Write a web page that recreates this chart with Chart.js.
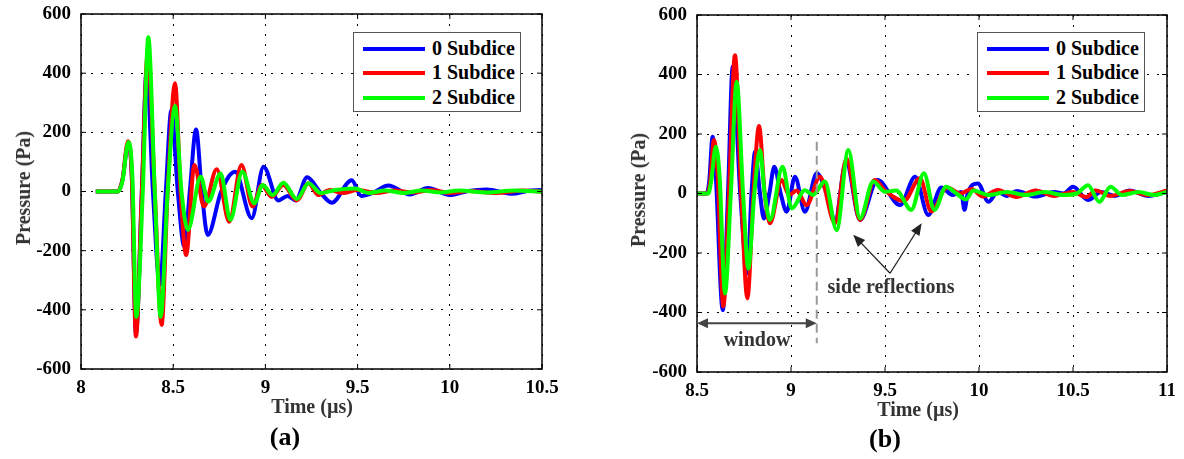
<!DOCTYPE html>
<html>
<head>
<meta charset="utf-8">
<script src="https://cdn.jsdelivr.net/npm/chart.js@4.4.1/dist/chart.umd.min.js"></script>
<style>
  body { margin: 0; background: #fff; width: 1184px; height: 459px; position: relative; overflow: hidden;
         font-family: "Liberation Serif", "Times New Roman", serif; font-weight: bold; }
  .wrap { position: absolute; top: 0; width: 592px; height: 459px; }
  .lbl { position: absolute; white-space: nowrap; transform: translate(-50%, -50%); line-height: 1; }
  .title { font-size: 20px; color: #333; }
  .note { font-size: 20px; color: #333; }
  .cap { font-size: 26px; color: #000; }
  .legend { position: absolute; width: 166px; height: 78px; border: 1.5px solid #555; background: #fff; }
  .row { position: absolute; left: 9px; height: 25px; display: flex; align-items: center; font-size: 20px; color: #000; }
  .row i { display: inline-block; width: 62px; height: 4px; margin-right: 7px; }
</style>
</head>
<body>
<div class="wrap" style="left:0"><canvas id="chartA"></canvas></div>
<div class="wrap" style="left:592px"><canvas id="chartB"></canvas></div>

<div class="legend" style="left:353px;top:32px">
  <div class="row" style="top:3px"><i style="background:#0000ff"></i>0 Subdice</div>
  <div class="row" style="top:27px"><i style="background:#ff0000"></i>1 Subdice</div>
  <div class="row" style="top:52px"><i style="background:#00ff00"></i>2 Subdice</div>
</div>
<div class="legend" style="left:977px;top:32px">
  <div class="row" style="top:3px"><i style="background:#0000ff"></i>0 Subdice</div>
  <div class="row" style="top:27px"><i style="background:#ff0000"></i>1 Subdice</div>
  <div class="row" style="top:52px"><i style="background:#00ff00"></i>2 Subdice</div>
</div>

<div class="lbl title" style="left:23px;top:188px;transform:translate(-50%,-50%) rotate(-90deg)">Pressure (Pa)</div>
<div class="lbl title" style="left:638px;top:190px;transform:translate(-50%,-50%) rotate(-90deg)">Pressure (Pa)</div>
<div class="lbl title" style="left:312px;top:406px">Time (µs)</div>
<div class="lbl title" style="left:918px;top:409px">Time (µs)</div>
<div class="lbl cap" style="left:285px;top:437px">(a)</div>
<div class="lbl cap" style="left:885px;top:439px">(b)</div>
<div class="lbl note" style="left:757px;top:339px">window</div>
<div class="lbl note" style="left:891px;top:286px">side reflections</div>

<script>
// (a) time (us) / pressure (Pa)
const tA0 = [8.08, 8.2, 8.225, 8.255, 8.275, 8.298, 8.33, 8.356, 8.39, 8.428, 8.46, 8.49, 8.525, 8.56, 8.59, 8.624, 8.655, 8.687, 8.76, 8.835, 8.926, 8.99, 9.07, 9.12, 9.165, 9.226, 9.3, 9.36, 9.468, 9.52, 9.58, 9.667, 9.784, 9.882, 10.0, 10.1, 10.2, 10.34, 10.42, 10.5];
const pA0 = [0, 0, 40, 160, 60, -480, 0, 410, 0, -316, 0, 275, 0, -186, 0, 210, 0, -147, 0, 67, -90, 84, -30, -15, -30, 48, -5, -38, 38, -15, -5, 20, -10, 12, -12, 2, 7, -8, 2, 5];
const tA1 = [8.08, 8.2, 8.225, 8.255, 8.275, 8.298, 8.33, 8.362, 8.4, 8.437, 8.47, 8.51, 8.54, 8.57, 8.615, 8.667, 8.736, 8.804, 8.87, 8.93, 8.98, 9.034, 9.097, 9.17, 9.234, 9.286, 9.35, 9.42, 9.5, 9.6, 9.7, 9.8, 9.9, 10.0, 10.1, 10.25, 10.4, 10.5];
const pA1 = [0, 0, 40, 170, 60, -490, 0, 468, 0, -451, 0, 366, 0, -215, 90, -51, 75, -102, 90, -51, 22, -18, 22, -30, 28, -12, 5, -5, 5, -5, 3, -3, 5, -5, 2, -5, 3, 0];
const tA2 = [8.08, 8.2, 8.225, 8.257, 8.278, 8.3, 8.335, 8.365, 8.4, 8.432, 8.47, 8.51, 8.545, 8.58, 8.649, 8.69, 8.757, 8.81, 8.875, 8.94, 8.985, 9.04, 9.097, 9.17, 9.234, 9.3, 9.38, 9.486, 9.56, 9.65, 9.75, 9.85, 9.95, 10.05, 10.2, 10.35, 10.5];
const pA2 = [0, 0, 35, 167, 60, -423, 0, 521, 0, -423, 0, 289, 0, -130, 50, -34, 61, -96, 67, -40, 22, -12, 30, -25, 28, -5, 5, 10, -5, 3, -5, 3, -3, 3, -3, 3, 0];

// (b)
const tB0 = [8.5, 8.55, 8.565, 8.583, 8.6, 8.637, 8.665, 8.69, 8.73, 8.768, 8.79, 8.809, 8.835, 8.856, 8.885, 8.911, 8.945, 8.977, 9.021, 9.074, 9.137, 9.19, 9.234, 9.293, 9.367, 9.46, 9.58, 9.66, 9.73, 9.8, 9.86, 9.905, 9.923, 9.94, 9.994, 10.05, 10.1, 10.15, 10.2, 10.3, 10.4, 10.45, 10.5, 10.58, 10.65, 10.72, 10.8, 10.9, 11.0];
const pB0 = [0, 0, 40, 191, 60, -392, 0, 426, 0, -268, 0, 140, 0, -84, 0, 90, 0, -61, 56, -61, 68, 0, -90, 107, -89, 45, -39, 56, -72, 20, -5, 5, -55, 0, 34, -28, 5, -8, 8, -10, 5, 0, 23, -22, 5, -8, 10, -8, 5];
const tB1 = [8.5, 8.555, 8.57, 8.59, 8.61, 8.64, 8.67, 8.702, 8.735, 8.768, 8.8, 8.83, 8.86, 8.888, 8.95, 8.99, 9.03, 9.083, 9.154, 9.234, 9.295, 9.367, 9.445, 9.5, 9.6, 9.686, 9.746, 9.83, 9.9, 9.96, 10.02, 10.1, 10.2, 10.3, 10.4, 10.5, 10.57, 10.62, 10.7, 10.8, 10.9, 11.0];
const pB1 = [0, 0, 40, 180, 60, -380, 0, 465, 0, -352, 0, 227, 0, -100, 45, -5, 10, -39, 56, -100, 118, -89, 45, 10, -25, 51, -60, 20, 0, 15, -10, 12, -12, 10, -8, 5, -12, 10, -8, 8, -5, 10];
const tB2 = [8.5, 8.56, 8.575, 8.6, 8.62, 8.649, 8.68, 8.711, 8.745, 8.773, 8.805, 8.835, 8.86, 8.888, 8.955, 9.004, 9.074, 9.117, 9.18, 9.243, 9.305, 9.367, 9.437, 9.5, 9.56, 9.64, 9.707, 9.763, 9.825, 9.88, 9.93, 9.97, 10.05, 10.15, 10.25, 10.35, 10.45, 10.52, 10.58, 10.64, 10.7, 10.76, 10.85, 10.93, 11.0];
const pB2 = [0, 0, 40, 157, 60, -336, 0, 376, 0, -252, 0, 146, 0, -89, 90, -50, 11, -5, 40, -123, 146, -84, 40, 6, 10, -55, 68, -55, 23, 0, -20, 10, -5, 5, -5, 5, -5, 0, 28, -28, 23, -5, 5, -5, 5];

const seriesNames = ['0 Subdice', '1 Subdice', '2 Subdice'];
const seriesColors = ['#0000ff', '#ff0000', '#00ff00'];
const yTicks = [-600, -400, -200, 0, 200, 400, 600];

const serif = '"Liberation Serif", "Times New Roman", serif';

function pts(t, p) {
  return t.map((v, i) => ({ x: v, y: p[i] }));
}

function makeSets(list) {
  return list.map((s, i) => ({
    label: seriesNames[i],
    data: pts(s[0], s[1]),
    borderColor: seriesColors[i],
    borderWidth: 4,
    pointRadius: 0,
    fill: false,
    order: 3 - i, // green on top, blue underneath
    cubicInterpolationMode: 'monotone'
  }));
}

// box round the plot and small inward ticks
const frame = {
  id: 'frame',
  afterDraw(chart) {
    const { ctx, chartArea: a, scales: { x, y } } = chart;
    ctx.save();
    ctx.strokeStyle = '#000';
    ctx.lineWidth = 1.5;
    ctx.strokeRect(a.left, a.top, a.right - a.left, a.bottom - a.top);
    ctx.lineWidth = 1;
    ctx.beginPath();
    x.ticks.forEach(t => {
      const px = x.getPixelForValue(t.value);
      ctx.moveTo(px, a.bottom); ctx.lineTo(px, a.bottom - 5);
      ctx.moveTo(px, a.top); ctx.lineTo(px, a.top + 5);
    });
    y.ticks.forEach(t => {
      const py = y.getPixelForValue(t.value);
      ctx.moveTo(a.left, py); ctx.lineTo(a.left + 5, py);
      ctx.moveTo(a.right, py); ctx.lineTo(a.right - 5, py);
    });
    ctx.stroke();
    ctx.restore();
  }
};

function arrowHead(ctx, x0, y0, x1, y1, len, w) {
  const ang = Math.atan2(y1 - y0, x1 - x0);
  const c = Math.cos(ang), s = Math.sin(ang);
  ctx.beginPath();
  ctx.moveTo(x1, y1);
  ctx.lineTo(x1 - len * c + w * s, y1 - len * s - w * c);
  ctx.lineTo(x1 - len * c - w * s, y1 - len * s + w * c);
  ctx.closePath();
  ctx.fill();
}

// window marker and side reflection arrows in (b)
const notesB = {
  id: 'notesB',
  afterDraw(chart) {
    const { ctx, scales: { x, y } } = chart;
    ctx.save();
    // end of window
    ctx.strokeStyle = '#999';
    ctx.lineWidth = 2;
    ctx.setLineDash([9, 5]);
    ctx.beginPath();
    ctx.moveTo(x.getPixelForValue(9.137), y.getPixelForValue(174));
    ctx.lineTo(x.getPixelForValue(9.137), y.getPixelForValue(-503));
    ctx.stroke();
    ctx.setLineDash([]);
    // window arrow
    const wy = y.getPixelForValue(-436);
    const w0 = x.getPixelForValue(8.5), w1 = x.getPixelForValue(9.137);
    ctx.strokeStyle = '#444';
    ctx.fillStyle = '#444';
    ctx.lineWidth = 2;
    ctx.beginPath();
    ctx.moveTo(w0 + 6, wy); ctx.lineTo(w1 - 6, wy);
    ctx.stroke();
    arrowHead(ctx, w1, wy, w0, wy, 11, 5);
    arrowHead(ctx, w0, wy, w1, wy, 11, 5);
    // side reflections
    const ax = x.getPixelForValue(9.527), ay = y.getPixelForValue(-268);
    const ends = [[9.331, -139], [9.695, -100]];
    ctx.strokeStyle = '#222';
    ctx.fillStyle = '#222';
    ctx.lineWidth = 1.3;
    ends.forEach(e => {
      const ex = x.getPixelForValue(e[0]), ey = y.getPixelForValue(e[1]);
      ctx.beginPath();
      ctx.moveTo(ax, ay);
      ctx.lineTo(ex - (ex - ax) * 0.08, ey - (ey - ay) * 0.08);
      ctx.stroke();
      arrowHead(ctx, ax, ay, ex, ey, 12, 5);
    });
    ctx.restore();
  }
};

function makeChart(id, sets, xMin, xMax, pad, extra) {
  return new Chart(document.getElementById(id), {
    type: 'line',
    data: { datasets: makeSets(sets) },
    options: {
      responsive: true,
      maintainAspectRatio: false,
      animation: false,
      layout: { padding: pad },
      plugins: { legend: { display: false }, tooltip: { enabled: false } },
      scales: {
        x: {
          type: 'linear',
          min: xMin,
          max: xMax,
          afterFit: s => { s.height = 40; s.paddingLeft = 0; s.paddingRight = 0; },
          ticks: { stepSize: 0.5, autoSkip: false, maxRotation: 0, padding: 8, color: '#000',
                   callback: v => String(Number(v.toFixed(2))),
                   font: { family: serif, size: 19, weight: 'bold' } },
          grid: { color: '#000', lineWidth: 1, drawTicks: false },
          border: { display: false, dash: [2, 8] }
        },
        y: {
          min: -600,
          max: 600,
          afterFit: s => { s.width = 81; s.paddingTop = 0; s.paddingBottom = 0; },
          afterBuildTicks: s => { s.ticks = yTicks.map(v => ({ value: v })); },
          ticks: { padding: 10, color: '#000', font: { family: serif, size: 19, weight: 'bold' } },
          grid: { color: '#000', lineWidth: 1, drawTicks: false },
          border: { display: false, dash: [2, 8] }
        }
      }
    },
    plugins: extra ? [frame, extra] : [frame]
  });
}

makeChart('chartA', [[tA0, pA0], [tA1, pA1], [tA2, pA2]], 8, 10.5,
  { left: 0, top: 14, right: 50, bottom: 50 });
makeChart('chartB', [[tB0, pB0], [tB1, pB1], [tB2, pB2]], 8.5, 11,
  { left: 24, top: 15, right: 17, bottom: 47 }, notesB);
</script>
</body>
</html>
